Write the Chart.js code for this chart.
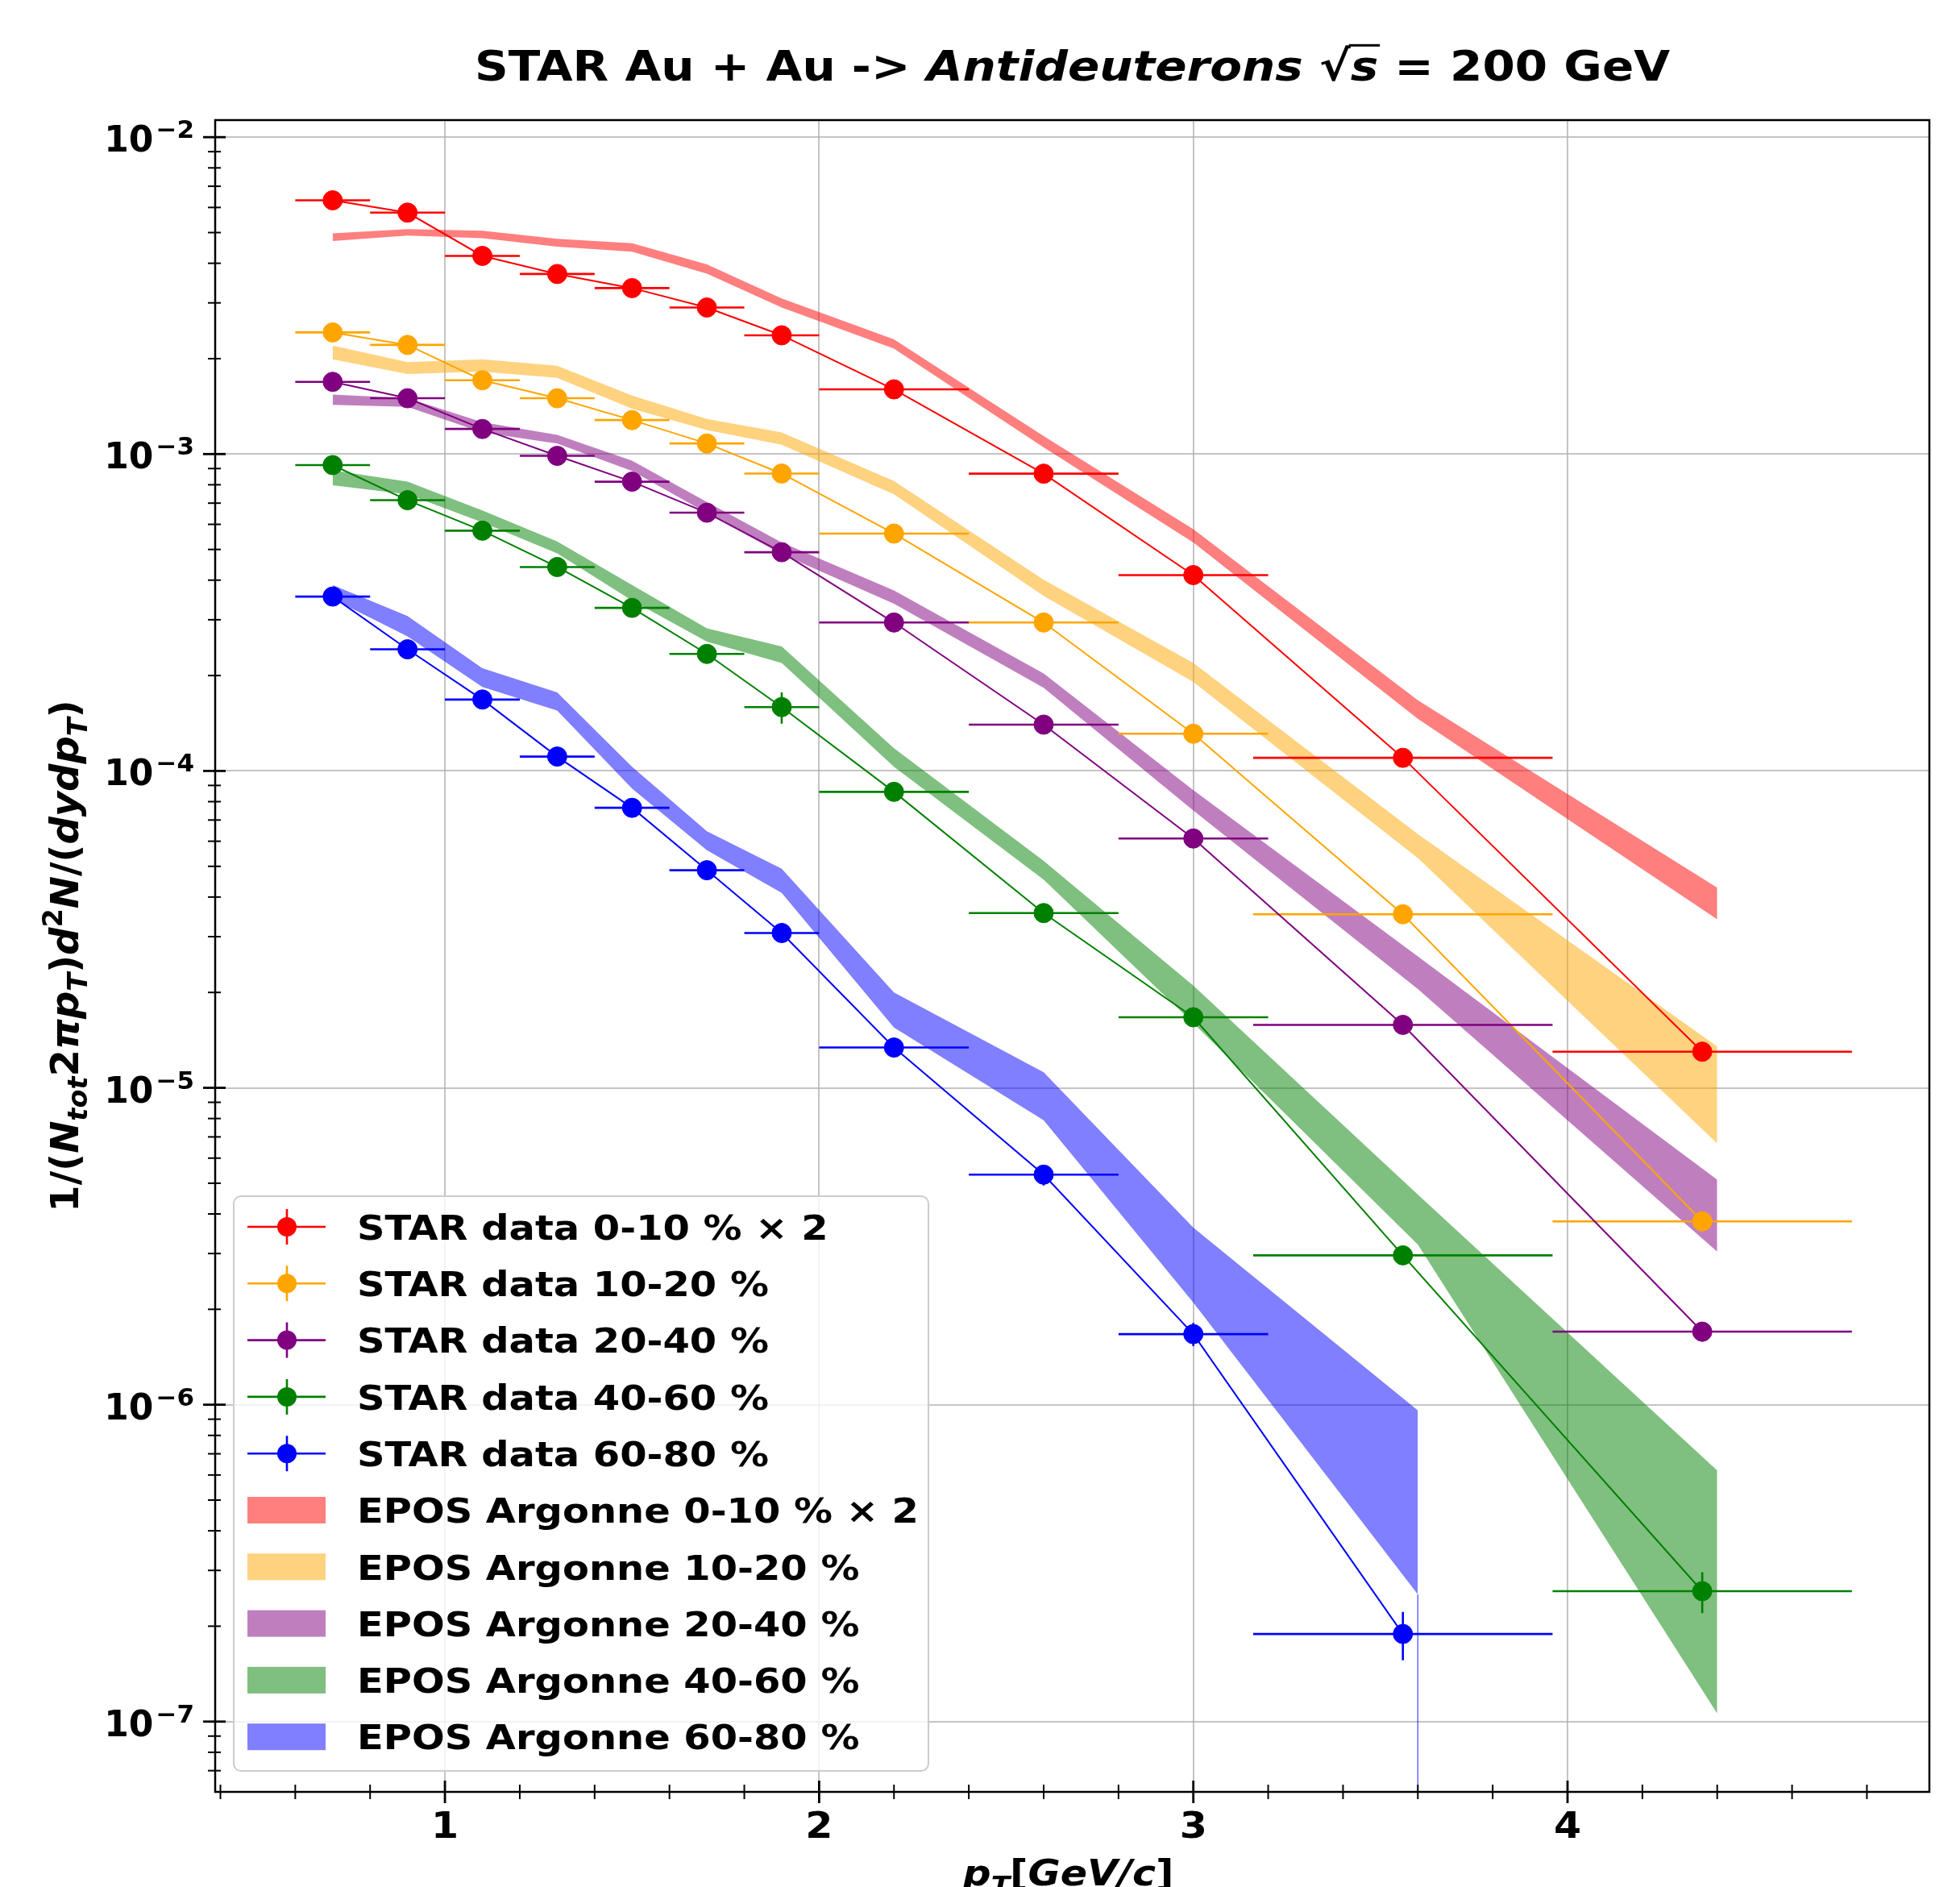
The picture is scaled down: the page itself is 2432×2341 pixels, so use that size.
<!DOCTYPE html>
<html><head><meta charset="utf-8">
<script src="https://cdn.jsdelivr.net/npm/chart.js@4.4.1/dist/chart.umd.min.js"></script>
<style>html,body{margin:0;padding:0;background:#fff;}canvas{display:block;}</style>
</head><body>
<canvas id="c" width="2432" height="2341"></canvas>
<script>
// ---------------- DATA ----------------
const pT    = [0.7, 0.9, 1.1, 1.3, 1.5, 1.7, 1.9, 2.2, 2.6, 3.0, 3.56, 4.36];
const pTerr = [0.1, 0.1, 0.1, 0.1, 0.1, 0.1, 0.1, 0.2, 0.2, 0.2, 0.4, 0.4];

const star0_10   = [6.32e-3, 5.78e-3, 4.22e-3, 3.70e-3, 3.34e-3, 2.90e-3, 2.37e-3, 1.60e-3, 8.67e-4, 4.15e-4, 1.10e-4, 1.30e-5];
const star0_10e  = [1.5e-4, 1.4e-4, 1.0e-4, 0.9e-4, 0.8e-4, 0.7e-4, 0.6e-4, 0.4e-4, 2.5e-5, 1.3e-5, 4e-6, 8e-7];
const star10_20  = [2.42e-3, 2.21e-3, 1.71e-3, 1.50e-3, 1.28e-3, 1.08e-3, 8.68e-4, 5.61e-4, 2.94e-4, 1.31e-4, 3.53e-5, 3.79e-6];
const star10_20e = [6e-5, 5.5e-5, 4.5e-5, 4e-5, 3.5e-5, 3e-5, 2.5e-5, 1.7e-5, 1e-5, 5e-6, 1.5e-6, 2.5e-7];
const star20_40  = [1.69e-3, 1.50e-3, 1.20e-3, 9.87e-4, 8.18e-4, 6.53e-4, 4.90e-4, 2.94e-4, 1.40e-4, 6.12e-5, 1.58e-5, 1.70e-6];
const star20_40e = [4e-5, 3.5e-5, 3e-5, 2.5e-5, 2.2e-5, 1.8e-5, 1.5e-5, 1e-5, 5e-6, 2.5e-6, 7e-7, 1.2e-7];
const star40_60  = [9.23e-4, 7.15e-4, 5.73e-4, 4.40e-4, 3.27e-4, 2.34e-4, 1.59e-4, 8.59e-5, 3.56e-5, 1.67e-5, 2.96e-6, 2.58e-7];
const star40_60e = [2.5e-5, 2e-5, 1.7e-5, 1.4e-5, 1.1e-5, 9e-6, 1.8e-5, 3.5e-6, 1.5e-6, 8e-7, 1.8e-7, 3.8e-8];
const star60_80  = [3.55e-4, 2.42e-4, 1.68e-4, 1.11e-4, 7.65e-5, 4.86e-5, 3.08e-5, 1.34e-5, 5.32e-6, 1.67e-6, 1.89e-7];
const star60_80e = [1.2e-5, 9e-6, 7e-6, 5e-6, 3.5e-6, 2.5e-6, 2e-6, 9e-7, 4e-7, 1.4e-7, 3.3e-8];

const eposPT = [0.7, 0.9, 1.1, 1.3, 1.5, 1.7, 1.9, 2.2, 2.6, 3.0, 3.6, 4.4];
const epos0_10hi  = [4.97e-3, 5.13e-3, 5.07e-3, 4.78e-3, 4.63e-3, 3.97e-3, 3.10e-3, 2.30e-3, 1.14e-3, 5.79e-4, 1.67e-4, 4.28e-5];
const epos0_10lo  = [4.70e-3, 4.89e-3, 4.80e-3, 4.51e-3, 4.35e-3, 3.71e-3, 2.90e-3, 2.15e-3, 1.05e-3, 5.26e-4, 1.46e-4, 3.40e-5];
const epos10_20hi = [2.20e-3, 1.95e-3, 1.99e-3, 1.90e-3, 1.53e-3, 1.29e-3, 1.17e-3, 8.22e-4, 4.01e-4, 2.19e-4, 6.32e-5, 1.35e-5];
const epos10_20lo = [1.99e-3, 1.79e-3, 1.82e-3, 1.74e-3, 1.39e-3, 1.19e-3, 1.07e-3, 7.46e-4, 3.57e-4, 1.91e-4, 5.31e-5, 6.68e-6];
const epos20_40hi = [1.54e-3, 1.50e-3, 1.26e-3, 1.15e-3, 9.53e-4, 7.06e-4, 5.26e-4, 3.71e-4, 2.03e-4, 8.7e-5, 2.6e-5, 5.13e-6];
const epos20_40lo = [1.43e-3, 1.41e-3, 1.17e-3, 1.08e-3, 8.85e-4, 6.51e-4, 4.83e-4, 3.37e-4, 1.83e-4, 7.5e-5, 2.05e-5, 3.04e-6];
const epos40_60hi = [8.89e-4, 8.19e-4, 6.64e-4, 5.30e-4, 3.86e-4, 2.82e-4, 2.47e-4, 1.18e-4, 5.20e-5, 2.1e-5, 4.6e-6, 6.2e-7];
const epos40_60lo = [7.97e-4, 7.46e-4, 6.09e-4, 4.86e-4, 3.45e-4, 2.56e-4, 2.19e-4, 1.03e-4, 4.54e-5, 1.6e-5, 3.2e-6, 1.06e-7];
const epos60_80hi = [3.86e-4, 3.08e-4, 2.11e-4, 1.77e-4, 1.03e-4, 6.45e-5, 4.91e-5, 2.0e-5, 1.12e-5, 3.62e-6, 9.6e-7];
const epos60_80lo = [3.49e-4, 2.66e-4, 1.84e-4, 1.55e-4, 8.8e-5, 5.62e-5, 4.12e-5, 1.55e-5, 7.9e-6, 2.1e-6, 2.52e-7];
// lower edge of the 60-80 % band dropping to zero after its last point
const epos60_80drop = [2.52e-7, 1e-10];

const xMajorTicks = [1, 2, 3, 4];
const xMinorTicks = [0.4, 0.6, 0.8, 1.2, 1.4, 1.6, 1.8, 2.2, 2.4, 2.6, 2.8, 3.2, 3.4, 3.6, 3.8, 4.2, 4.4, 4.6, 4.8];
const yMajorTicks = [1e-7, 1e-6, 1e-5, 1e-4, 1e-3, 1e-2];
const yTickExps   = ['−7', '−6', '−5', '−4', '−3', '−2'];

const starLabels = ['STAR data 0-10 % × 2', 'STAR data 10-20 %', 'STAR data 20-40 %', 'STAR data 40-60 %', 'STAR data 60-80 %'];
const eposLabels = ['EPOS Argonne 0-10 % × 2', 'EPOS Argonne 10-20 %', 'EPOS Argonne 20-40 %', 'EPOS Argonne 40-60 %', 'EPOS Argonne 60-80 %'];
const colors     = ['#ff0000', '#ffa500', '#800080', '#008000', '#0000ff'];
const bandColors = ['rgba(255,0,0,0.5)', 'rgba(255,165,0,0.5)', 'rgba(128,0,128,0.5)', 'rgba(0,128,0,0.5)', 'rgba(0,0,255,0.5)'];

const X_MIN = 0.386, X_MAX = 4.967;
const Y_MIN = 6.12e-8, Y_MAX = 1.132e-2;

// ---------------- BUILD ----------------
const starVals = [star0_10, star10_20, star20_40, star40_60, star60_80];
const starErrs = [star0_10e, star10_20e, star20_40e, star40_60e, star60_80e];
const eposHi = [epos0_10hi, epos10_20hi, epos20_40hi, epos40_60hi, epos60_80hi];
const eposLo = [epos0_10lo, epos10_20lo, epos20_40lo, epos40_60lo, epos60_80lo];

const FONT = '"DejaVu Sans"';
const HS = 1.115; // horizontal text stretch seen in the reference
const datasets = [];
for (let k = 0; k < 5; k++) {
  datasets.push({
    label: eposLabels[k] + ' (low)', isBandLow: true,
    data: eposLo[k].map((v, i) => ({x: eposPT[i], y: v})),
    borderWidth: 0, pointRadius: 0, fill: false, order: 10,
    borderColor: 'rgba(0,0,0,0)', backgroundColor: bandColors[k]
  });
  datasets.push({
    label: eposLabels[k], isBand: true, bandIdx: k,
    data: eposHi[k].map((v, i) => ({x: eposPT[i], y: v})),
    borderWidth: 0, pointRadius: 0, fill: '-1', order: 10,
    borderColor: 'rgba(0,0,0,0)', backgroundColor: bandColors[k]
  });
}
datasets.push({
  label: 'drop', isDrop: true,
  data: epos60_80drop.map(v => ({x: eposPT[10], y: v})),
  borderWidth: 1.5, borderColor: 'rgba(0,0,255,0.6)', pointRadius: 0, fill: false, order: 9
});
for (let k = 0; k < 5; k++) {
  datasets.push({
    label: starLabels[k], isStar: true, starIdx: k,
    data: starVals[k].map((v, i) => ({x: pT[i], y: v})),
    xErr: pTerr.slice(0, starVals[k].length), yErr: starErrs[k],
    borderColor: colors[k], backgroundColor: colors[k],
    borderWidth: 2, pointRadius: 12, pointHoverRadius: 12,
    pointBackgroundColor: colors[k], pointBorderColor: colors[k], pointBorderWidth: 1,
    fill: false, order: 5 - k
  });
}

function stretchText(ctx, t, x, y, hs) {
  ctx.save(); ctx.translate(x, y); ctx.scale(hs, 1); ctx.fillText(t, 0, 0); ctx.restore();
}
function partRuns(ctx, parts, size, hs) {
  return parts.map(p => {
    const s = (p.sub || p.sup) ? size * 0.7 : size;
    const font = (p.it ? 'italic ' : '') + 'bold ' + s.toFixed(1) + 'px ' + FONT;
    ctx.font = font;
    return {p, font, w: ctx.measureText(p.t).width * hs, dy: p.sub ? size * 0.22 : (p.sup ? -size * 0.42 : 0), s};
  });
}
function drawRich(ctx, parts, size, x, y, align, hs) {
  hs = hs || 1;
  const r = partRuns(ctx, parts, size, hs);
  const total = r.reduce((s, q) => s + q.w, 0);
  let cx = align === 'center' ? x - total / 2 : (align === 'right' ? x - total : x);
  ctx.textAlign = 'left'; ctx.textBaseline = 'alphabetic';
  r.forEach(q => {
    ctx.font = q.font;
    stretchText(ctx, q.p.t, cx, y + q.dy, hs);
    if (q.p.over) {
      ctx.save(); ctx.lineWidth = 3; ctx.strokeStyle = ctx.fillStyle;
      ctx.beginPath(); ctx.moveTo(cx - 2, y - size * 0.84); ctx.lineTo(cx + q.w + 2, y - size * 0.84); ctx.stroke();
      ctx.restore();
    }
    cx += q.w;
  });
  return total;
}

const titleParts = [
  {t: 'STAR Au + Au -> '}, {t: 'Antideuterons', it: true}, {t: ' √'}, {t: 's', it: true, over: true}, {t: ' = 200 GeV'}
];
const yLabelParts = [
  {t: '1/('}, {t: 'N', it: true}, {t: 'tot', it: true, sub: true}, {t: '2'}, {t: 'π', it: true},
  {t: 'p', it: true}, {t: 'T', it: true, sub: true}, {t: ')'}, {t: 'd', it: true}, {t: '2', sup: true},
  {t: 'N', it: true}, {t: '/('}, {t: 'dydp', it: true}, {t: 'T', it: true, sub: true}, {t: ')'}
];
const xLabelParts = [
  {t: 'p', it: true}, {t: 'T', it: true, sub: true}, {t: '['}, {t: 'GeV/c', it: true}, {t: ']'}
];

const decor = {
  id: 'decor',
  beforeDatasetDraw(chart, args) {
    const ds = chart.data.datasets[args.index];
    if (!ds.isStar) return;
    const ctx = chart.ctx, xs = chart.scales.x, ys = chart.scales.y, a = chart.chartArea;
    ctx.save();
    ctx.beginPath(); ctx.rect(a.left, a.top, a.right - a.left, a.bottom - a.top); ctx.clip();
    ctx.strokeStyle = ds.borderColor; ctx.lineWidth = 2.6; ctx.lineCap = 'butt';
    ds.data.forEach((p, i) => {
      const px = xs.getPixelForValue(p.x), py = ys.getPixelForValue(p.y);
      const xl = xs.getPixelForValue(p.x - ds.xErr[i]), xr = xs.getPixelForValue(p.x + ds.xErr[i]);
      const yt = ys.getPixelForValue(p.y + ds.yErr[i]), yb = ys.getPixelForValue(Math.max(p.y - ds.yErr[i], 1e-12));
      ctx.beginPath(); ctx.moveTo(xl, py); ctx.lineTo(xr, py); ctx.moveTo(px, yt); ctx.lineTo(px, yb); ctx.stroke();
    });
    ctx.restore();
  },
  afterDraw(chart) {
    const ctx = chart.ctx, xs = chart.scales.x, ys = chart.scales.y, a = chart.chartArea;
    ctx.save();
    ctx.fillStyle = '#000'; ctx.strokeStyle = '#000';
    // spines
    ctx.lineWidth = 2.5;
    ctx.strokeRect(a.left, a.top, a.right - a.left, a.bottom - a.top);
    // x ticks
    ctx.lineWidth = 2.8;
    xMajorTicks.forEach(v => { const px = xs.getPixelForValue(v); ctx.beginPath(); ctx.moveTo(px, a.bottom - 14); ctx.lineTo(px, a.bottom + 14); ctx.stroke(); });
    ctx.lineWidth = 2;
    xMinorTicks.forEach(v => { const px = xs.getPixelForValue(v); ctx.beginPath(); ctx.moveTo(px, a.bottom - 9); ctx.lineTo(px, a.bottom + 9); ctx.stroke(); });
    // y ticks
    ctx.lineWidth = 2.8;
    yMajorTicks.forEach(v => { const py = ys.getPixelForValue(v); ctx.beginPath(); ctx.moveTo(a.left - 15, py); ctx.lineTo(a.left + 13, py); ctx.stroke(); });
    ctx.lineWidth = 2;
    for (let e = -8; e <= -2; e++) {
      for (let m = 2; m <= 9; m++) {
        const v = m * Math.pow(10, e);
        if (v < Y_MIN || v > Y_MAX) continue;
        const py = ys.getPixelForValue(v);
        ctx.beginPath(); ctx.moveTo(a.left - 9, py); ctx.lineTo(a.left + 7, py); ctx.stroke();
      }
    }
    // x tick labels
    ctx.font = 'bold 44px ' + FONT; ctx.textAlign = 'center'; ctx.textBaseline = 'alphabetic';
    xMajorTicks.forEach(v => stretchText(ctx, String(v), xs.getPixelForValue(v), 2280, HS));
    // y tick labels
    yMajorTicks.forEach((v, i) => {
      const py = ys.getPixelForValue(v);
      ctx.font = 'bold 31px ' + FONT; ctx.textAlign = 'right';
      const sw = ctx.measureText(yTickExps[i]).width;
      ctx.fillText(yTickExps[i], 241, py + 1);
      ctx.font = 'bold 44px ' + FONT;
      ctx.fillText('10', 241 - sw - 3, py + 18);
    });
    // axis labels
    drawRich(ctx, xLabelParts, 44, (a.left + a.right) / 2 - 5, 2339, 'center', HS);
    ctx.save();
    ctx.translate(97, (a.top + a.bottom) / 2);
    ctx.rotate(-Math.PI / 2);
    drawRich(ctx, yLabelParts, 48, 0, 0, 'center', 1);
    ctx.restore();
    // title
    drawRich(ctx, titleParts, 52, (a.left + a.right) / 2, 100, 'center', HS);
    // legend
    const L = {x0: 290, y0: 1484, x1: 1152, y1: 2197, r: 9};
    ctx.beginPath();
    ctx.roundRect(L.x0, L.y0, L.x1 - L.x0, L.y1 - L.y0, L.r);
    ctx.fillStyle = 'rgba(255,255,255,0.8)'; ctx.fill();
    ctx.strokeStyle = '#cccccc'; ctx.lineWidth = 2; ctx.stroke();
    const rowY = i => 1522 + i * 70.3;
    const hx0 = 307, hx1 = 404, hxc = 356, tx = 443;
    ctx.font = 'bold 43px ' + FONT; ctx.textAlign = 'left'; ctx.textBaseline = 'alphabetic';
    chart.data.datasets.filter(d => d.isStar).forEach((d, i) => {
      const y = rowY(i);
      ctx.strokeStyle = d.borderColor; ctx.lineWidth = 2.6;
      ctx.beginPath(); ctx.moveTo(hx0, y); ctx.lineTo(hx1, y); ctx.moveTo(hxc, y - 22); ctx.lineTo(hxc, y + 22); ctx.stroke();
      ctx.fillStyle = d.borderColor; ctx.beginPath(); ctx.arc(hxc, y, 12, 0, Math.PI * 2); ctx.fill();
      ctx.fillStyle = '#000'; stretchText(ctx, d.label, tx, y + 15.7, HS);
    });
    chart.data.datasets.filter(d => d.isBand).forEach((d, i) => {
      const y = rowY(i + 5);
      ctx.fillStyle = d.backgroundColor; ctx.fillRect(hx0, y - 16.5, hx1 - hx0, 33);
      ctx.fillStyle = '#000'; stretchText(ctx, d.label, tx, y + 15.7, HS);
    });
    ctx.restore();
  }
};

const GRID = 'rgba(176,176,176,0.75)';
new Chart(document.getElementById('c'), {
  type: 'line',
  data: {datasets},
  options: {
    responsive: false, devicePixelRatio: 1, animation: false, events: [],
    layout: {padding: {left: 0, right: 2432 - 2394, top: 149, bottom: 0}},
    plugins: {legend: {display: false}, title: {display: false}, tooltip: {enabled: false}},
    elements: {line: {tension: 0}},
    scales: {
      x: {
        type: 'linear', min: X_MIN, max: X_MAX,
        afterBuildTicks: s => { s.ticks = xMajorTicks.map(v => ({value: v})); },
        afterFit: s => { s.height = 2341 - 2223; },
        ticks: {display: false},
        grid: {color: GRID, lineWidth: 2, drawTicks: false},
        border: {display: false}
      },
      y: {
        type: 'logarithmic', min: Y_MIN, max: Y_MAX,
        afterBuildTicks: s => { s.ticks = yMajorTicks.map(v => ({value: v, major: true})); },
        afterFit: s => { s.width = 267; },
        ticks: {display: false},
        grid: {color: GRID, lineWidth: 2, drawTicks: false},
        border: {display: false}
      }
    }
  },
  plugins: [decor]
});
</script>
</body></html>
